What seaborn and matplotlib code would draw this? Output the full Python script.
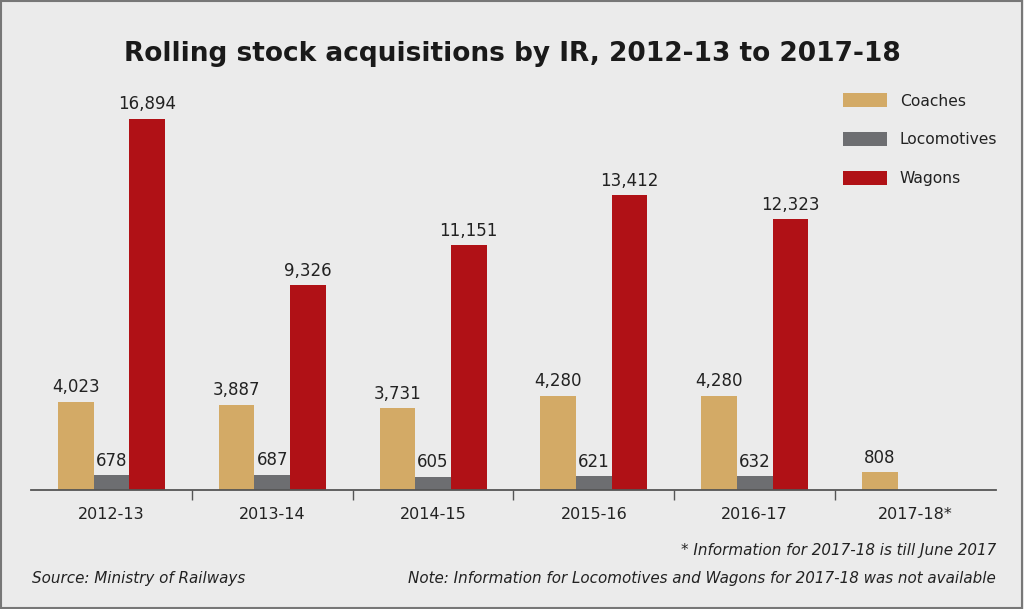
import numpy as np
import pandas as pd
import matplotlib.pyplot as plt
import seaborn as sns
from matplotlib.patches import Patch, Rectangle

# Data
years = ['2012-13', '2013-14', '2014-15', '2015-16', '2016-17', '2017-18*']
coaches = [4023, 3887, 3731, 4280, 4280, 808]
locomotives = [678, 687, 605, 621, 632, np.nan]
wagons = [16894, 9326, 11151, 13412, 12323, np.nan]
series = ['Coaches', 'Locomotives', 'Wagons']
colors = ['#d3aa66', '#6d6e71', '#b01116']

df = pd.DataFrame({
    'year': years * 3,
    'kind': [s for s in series for _ in years],
    'value': coaches + locomotives + wagons,
})

sns.set_style('white')
plt.rcParams['font.family'] = ['DejaVu Sans']

bg = '#ebebeb'
ink = '#222222'
fig = plt.figure(figsize=(10.24, 6.09), dpi=100, facecolor=bg)
fig.patches.append(Rectangle((0.001, 0.002), 0.997, 0.996, transform=fig.transFigure,
                             fill=False, edgecolor='#777777', linewidth=1.5))

ax = fig.add_axes([31 / 1024, 1 - 490 / 609, 965 / 1024, 430 / 609])
ax.set_facecolor(bg)

sns.barplot(data=df, x='year', y='value', hue='kind', hue_order=series,
            palette=colors, width=0.665, gap=0, saturation=1, dodge=True,
            errorbar=None, legend=False, linewidth=0, ax=ax)

ax.set_ylim(0, 19580)
ax.set_xlim(-0.5, 5.5)

for cont in ax.containers:
    labels = ['' if np.isnan(v) else f'{int(v):,}' for v in cont.datavalues]
    ax.bar_label(cont, labels=labels, padding=4, fontsize=12, color=ink)

for s in ['top', 'left', 'right']:
    ax.spines[s].set_visible(False)
ax.spines['bottom'].set_color('#555555')
ax.spines['bottom'].set_linewidth(1.3)
ax.set_yticks([])
ax.set_xlabel('')
ax.set_ylabel('')

# small separators between year groups
ax.set_xticks(np.arange(0.5, 5, 1), minor=True)
ax.tick_params(axis='x', which='minor', bottom=True, length=7, color='#555555',
               width=1, direction='out')
ax.tick_params(axis='x', which='major', bottom=True, length=0, pad=12,
               labelsize=11.5, labelcolor=ink)

# Legend
handles = [Patch(facecolor=c, edgecolor='none') for c in colors]
fig.legend(handles, series, loc='upper left', bbox_to_anchor=(843 / 1024, 1 - 93 / 609),
           frameon=False, fontsize=11.2, handlelength=2.85, handleheight=1.05,
           labelspacing=1.5, handletextpad=0.8, borderpad=0, borderaxespad=0,
           labelcolor=ink)

# Title
fig.text(0.5, 1 - 54 / 609, 'Rolling stock acquisitions by IR, 2012-13 to 2017-18',
         ha='center', va='center', fontsize=19, fontweight='bold', color='#1a1a1a')

# Footnotes
fig.text(996 / 1024, 1 - 551 / 609, '* Information for 2017-18 is till June 2017',
         ha='right', va='center', fontsize=10.9, style='italic', color=ink)
fig.text(32 / 1024, 1 - 578 / 609, 'Source: Ministry of Railways',
         ha='left', va='center', fontsize=10.9, style='italic', color=ink)
fig.text(996 / 1024, 1 - 578 / 609,
         'Note: Information for Locomotives and Wagons for 2017-18 was not available',
         ha='right', va='center', fontsize=10.9, style='italic', color=ink)

fig.savefig('out.png', dpi=100, facecolor=bg)
